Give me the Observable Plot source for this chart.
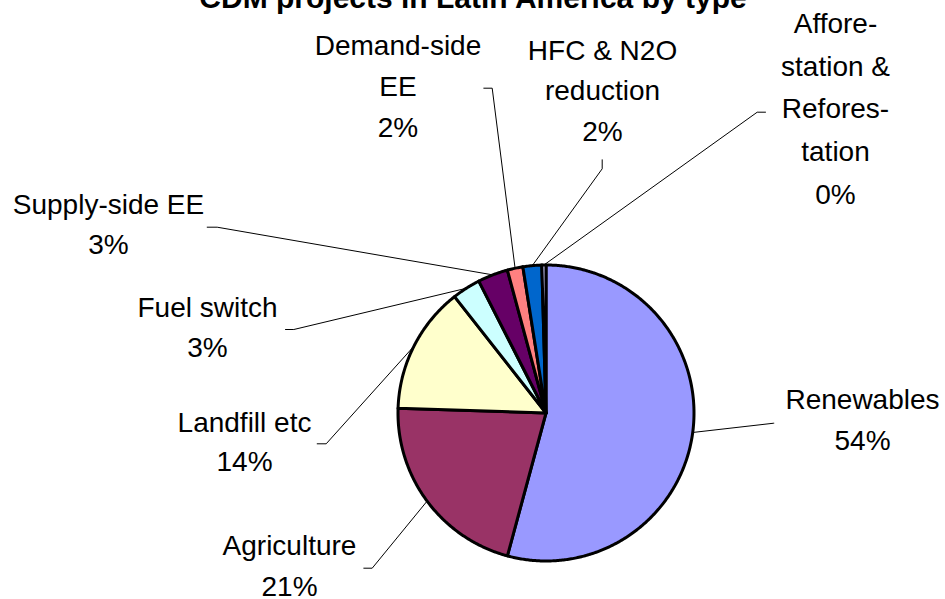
<!DOCTYPE html>
<html><head><meta charset="utf-8">
<script src="https://cdn.jsdelivr.net/npm/d3@7"></script>
<script src="https://cdn.jsdelivr.net/npm/@observablehq/plot@0.6"></script>
<style>html,body{margin:0;padding:0;background:#fff;} #chart svg{display:block;overflow:hidden;}</style>
</head><body><div id="chart"></div>
<script>
// ---- data ----
const title = "CDM projects in Latin America by type";
const categories = ["Renewables","Agriculture","Landfill etc","Fuel switch","Supply-side EE","Demand-side EE","HFC & N2O reduction","Afforestation & Reforestation"];
const shares = [54.2, 21.3, 13.9, 3.1, 3.3, 1.7, 2.05, 0.45];
const colors = ["#9999FF","#993366","#FFFFCC","#CCFFFF","#660066","#FF8080","#0066CC","#CCCCFF"];
const labelNames = ["Renewables","Agriculture","Landfill etc","Fuel switch","Supply-side EE","Demand-side\nEE","HFC & N2O\nreduction","Affore-\nstation &\nRefores-\ntation"];

// ---- layout (pixels) ----
const W = 945, H = 599, cx = 545.5, cy = 412.5, R = 148;
const labelX = [862, 289, 244, 207, 108, 397.5, 602, 835];
const labelY = [449, 595, 470.7, 356.7, 253.3, 136, 140, 203]; // baseline of last line
const lineHeights = [1.45, 1.43, 1.4, 1.43, 1.43, 1.45, 1.43, 1.52];
const tickStart = [[773.3,422.7],[363.3,567.7],[316.7,443.3],[285,329],[206.7,226.7],[483.3,87.7],[601.7,159.3],[765,111.7]];
const tickEnd   = [[773.3,422.7],[371.7,567.7],[325.7,443.3],[293.3,329],[216.7,226.7],[491.7,87.7],[601.7,168.3],[756.7,111.7]];

const table = categories.map((c, i) => ({category: c, share: shares[i], i}));
const arcs = d3.pie().sort(null).value(d => d.share)(table);

const slicePts = arcs.flatMap(a => {
  const span = a.endAngle - a.startAngle;
  const n = Math.max(2, Math.ceil(span / (Math.PI / 360)));
  const pts = [{category: a.data.category, x: cx, y: cy}];
  for (let k = 0; k <= n; k++) {
    const t = a.startAngle + span * k / n;
    pts.push({category: a.data.category, x: cx + R * Math.sin(t), y: cy - R * Math.cos(t)});
  }
  return pts;
});

const leaderPts = arcs.flatMap((a, i) => {
  const m = (a.startAngle + a.endAngle) / 2;
  return [
    {k: i, x: tickStart[i][0], y: tickStart[i][1]},
    {k: i, x: tickEnd[i][0], y: tickEnd[i][1]},
    {k: i, x: cx + R * Math.sin(m), y: cy - R * Math.cos(m)}
  ];
});

const labels = table.map((d, i) => ({
  text: labelNames[i] + "\n" + Math.round(d.share) + "%",
  x: labelX[i], y: labelY[i], lh: lineHeights[i]
}));

const chart = Plot.plot({
  width: W, height: H,
  margin: 0,
  style: {fontFamily: "'Liberation Sans', Arial, sans-serif", background: "#fff", overflow: "hidden"},
  x: {domain: [0, W], range: [0, W], axis: null},
  y: {domain: [0, H], range: [0, H], axis: null},
  color: {domain: categories, range: colors},
  marks: [
    Plot.line(slicePts, {x: "x", y: "y", z: "category", fill: "category", stroke: "black", strokeWidth: 3, strokeLinejoin: "round", curve: "linear-closed"}),
    Plot.line(leaderPts, {x: "x", y: "y", z: "k", stroke: "black", strokeWidth: 1}),
    ...labels.map(l => Plot.text([l], {x: "x", y: "y", text: "text", textAnchor: "middle", lineAnchor: "bottom", lineHeight: l.lh, fontSize: 28, fill: "black"})),
    Plot.text([title], {frameAnchor: "top", lineAnchor: "bottom", dy: 7, fontSize: 30, fontWeight: "bold", fill: "black"})
  ]
});
document.getElementById("chart").appendChild(chart);
</script>
</body></html>
